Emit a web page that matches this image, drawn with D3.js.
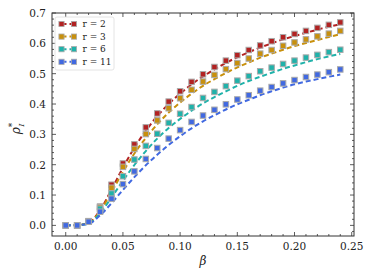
<!DOCTYPE html>
<html>
<head>
<meta charset="utf-8">
<title>rho vs beta</title>
<style>
  html, body { margin: 0; padding: 0; background: #fff; }
  svg { display: block; font-family: "DejaVu Serif", serif; }
</style>
</head>
<body>
<svg width="374" height="280"></svg>
<script src="https://d3js.org/d3.v7.min.js"></script>
<script>
const beta = [0, 0.01, 0.02, 0.03, 0.04, 0.05, 0.06, 0.07, 0.08, 0.09, 0.10, 0.11, 0.12,
              0.13, 0.14, 0.15, 0.16, 0.17, 0.18, 0.19, 0.20, 0.21, 0.22, 0.23, 0.24];

// simulation points (squares)
const simR2  = [0, 0, 0.014, 0.062, 0.134, 0.204, 0.267, 0.323, 0.369, 0.408, 0.442, 0.473, 0.498, 0.522, 0.543, 0.561, 0.578, 0.593, 0.607, 0.620, 0.631, 0.641, 0.651, 0.661, 0.669];
const simR3  = [0, 0, 0.013, 0.060, 0.124, 0.193, 0.252, 0.301, 0.346, 0.386, 0.419, 0.447, 0.474, 0.496, 0.515, 0.535, 0.550, 0.566, 0.578, 0.592, 0.603, 0.613, 0.623, 0.632, 0.641];
const simR6  = [0, 0, 0.012, 0.055, 0.105, 0.162, 0.217, 0.262, 0.302, 0.338, 0.368, 0.390, 0.420, 0.440, 0.459, 0.477, 0.492, 0.508, 0.520, 0.532, 0.543, 0.553, 0.562, 0.571, 0.579];
const simR11 = [0, 0, 0.012, 0.045, 0.088, 0.136, 0.178, 0.219, 0.255, 0.286, 0.314, 0.341, 0.362, 0.381, 0.399, 0.415, 0.429, 0.444, 0.456, 0.468, 0.479, 0.489, 0.497, 0.505, 0.514];

// theory curves (dashed)
const thR2  = [0, 0.001, 0.008, 0.050, 0.118, 0.190, 0.256, 0.312, 0.360, 0.400, 0.434, 0.465, 0.491, 0.514, 0.536, 0.554, 0.571, 0.586, 0.600, 0.613, 0.624, 0.635, 0.645, 0.655, 0.663];
const thR3  = [0, 0.001, 0.007, 0.046, 0.110, 0.176, 0.237, 0.288, 0.333, 0.372, 0.405, 0.434, 0.460, 0.482, 0.502, 0.521, 0.537, 0.553, 0.566, 0.579, 0.591, 0.601, 0.611, 0.621, 0.630];
const thR6  = [0, 0.001, 0.006, 0.040, 0.092, 0.147, 0.199, 0.245, 0.286, 0.321, 0.351, 0.378, 0.402, 0.423, 0.442, 0.460, 0.476, 0.490, 0.503, 0.516, 0.527, 0.538, 0.548, 0.557, 0.565];
const thR11 = [0, 0.001, 0.005, 0.033, 0.073, 0.117, 0.159, 0.198, 0.233, 0.265, 0.294, 0.320, 0.343, 0.363, 0.382, 0.399, 0.414, 0.429, 0.442, 0.454, 0.465, 0.474, 0.482, 0.490, 0.497];

const labels = ["r = 2", "r = 3", "r = 6", "r = 11"];
const colors = ["#b22222", "#c8900c", "#20b2aa", "#4169e1"];
const sims = [simR2, simR3, simR6, simR11];
const theories = [thR2, thR3, thR6, thR11];

const xTicks = [0, 0.05, 0.10, 0.15, 0.20, 0.25];
const yTicks = [0, 0.1, 0.2, 0.3, 0.4, 0.5, 0.6, 0.7];

const margin = {left: 52, top: 13, right: 20, bottom: 44};
const W = 374, H = 280;
const svg = d3.select("svg");

const x = d3.scaleLinear().domain([-0.012, 0.252]).range([margin.left, W - margin.right]);
const y = d3.scaleLinear().domain([-0.035, 0.7]).range([H - margin.bottom, margin.top]);

const x0 = margin.left, x1 = W - margin.right, y0 = H - margin.bottom, y1 = margin.top;
const axisColor = "#333";

// minor ticks
const xMinor = d3.range(0, 26).map(i => i * 0.01).filter(v => Math.round(v * 100) % 5 !== 0);
const yMinor = d3.range(-1, 36).map(i => i * 0.02).filter(v => Math.round(v * 100) % 10 !== 0 && v >= -0.035 && v <= 0.7);

const ticks = svg.append("g").attr("stroke", axisColor).attr("stroke-width", 0.8);
xTicks.forEach(v => {
  ticks.append("line").attr("x1", x(v)).attr("x2", x(v)).attr("y1", y0).attr("y2", y0 - 4);
  ticks.append("line").attr("x1", x(v)).attr("x2", x(v)).attr("y1", y1).attr("y2", y1 + 4);
});
xMinor.forEach(v => {
  ticks.append("line").attr("x1", x(v)).attr("x2", x(v)).attr("y1", y0).attr("y2", y0 - 2);
  ticks.append("line").attr("x1", x(v)).attr("x2", x(v)).attr("y1", y1).attr("y2", y1 + 2);
});
yTicks.forEach(v => {
  ticks.append("line").attr("y1", y(v)).attr("y2", y(v)).attr("x1", x0).attr("x2", x0 + 4);
  ticks.append("line").attr("y1", y(v)).attr("y2", y(v)).attr("x1", x1).attr("x2", x1 - 4);
});
yMinor.forEach(v => {
  ticks.append("line").attr("y1", y(v)).attr("y2", y(v)).attr("x1", x0).attr("x2", x0 + 2);
  ticks.append("line").attr("y1", y(v)).attr("y2", y(v)).attr("x1", x1).attr("x2", x1 - 2);
});

// tick labels
svg.append("g").selectAll("text").data(xTicks).join("text")
  .attr("x", d => x(d)).attr("y", y0 + 13.5)
  .attr("text-anchor", "middle").attr("font-size", 10.5).attr("fill", "#222")
  .text(d => d.toFixed(2));
svg.append("g").selectAll("text").data(yTicks).join("text")
  .attr("x", x0 - 6).attr("y", d => y(d) + 4)
  .attr("text-anchor", "end").attr("font-size", 10.5).attr("fill", "#222")
  .text(d => d.toFixed(1));

// theory lines
const line = d3.line().x((d, i) => x(beta[i])).y(d => y(d)).curve(d3.curveMonotoneX);
const plot = svg.append("g");
theories.forEach((s, k) => {
  plot.append("path").attr("d", line(s))
    .attr("fill", "none").attr("stroke", colors[k])
    .attr("stroke-width", 2).attr("stroke-dasharray", "5,3");
});

// squares
const sq = 5.5;
sims.forEach((s, k) => {
  plot.append("g").selectAll("rect").data(s).join("rect")
    .attr("x", (d, i) => x(beta[i]) - sq / 2)
    .attr("y", d => y(d) - sq / 2)
    .attr("width", sq).attr("height", sq)
    .attr("fill", colors[k])
    .attr("stroke", "#aaa").attr("stroke-width", 1);
});

// frame
svg.append("rect").attr("x", x0).attr("y", y1).attr("width", x1 - x0).attr("height", y0 - y1)
  .attr("fill", "none").attr("stroke", axisColor).attr("stroke-width", 1);

// legend
const lg = svg.append("g");
lg.append("rect").attr("x", 55).attr("y", 17).attr("width", 59).attr("height", 53)
  .attr("rx", 2).attr("fill", "#fff").attr("fill-opacity", 0.85)
  .attr("stroke", "#ddd").attr("stroke-width", 0.8);
labels.forEach((lab, k) => {
  const ly = 24 + k * 12.6;
  lg.append("line").attr("x1", 61.5).attr("x2", 74).attr("y1", ly).attr("y2", ly)
    .attr("stroke", colors[k]).attr("stroke-width", 2).attr("stroke-dasharray", "5,3");
  [61.5, 74].forEach(cx => {
    lg.append("rect").attr("x", cx - 2.6).attr("y", ly - 2.6).attr("width", 5.2).attr("height", 5.2)
      .attr("fill", colors[k]).attr("stroke", "#aaa").attr("stroke-width", 0.8);
  });
  lg.append("text").attr("x", 82.5).attr("y", ly + 3).attr("font-size", 9).attr("fill", "#222").text(lab);
});

// axis labels
svg.append("text").attr("x", (x0 + x1) / 2).attr("y", 265)
  .attr("text-anchor", "middle").attr("font-size", 12).attr("font-style", "italic").attr("fill", "#222")
  .text("β");

const yl = svg.append("text").attr("transform", `translate(20,${(y0 + y1) / 2 + 4}) rotate(-90)`)
  .attr("text-anchor", "middle").attr("font-size", 12).attr("fill", "#222");
yl.append("tspan").attr("font-style", "italic").text("ρ");
yl.append("tspan").attr("font-size", 9).attr("dy", -5).text("*");
yl.append("tspan").attr("font-size", 8).attr("font-style", "italic").attr("dx", -4).attr("dy", 9).text("I");
</script>
</body>
</html>
